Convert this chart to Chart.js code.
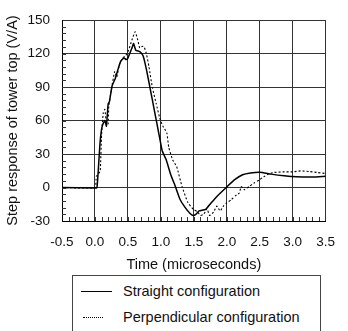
<!DOCTYPE html>
<html>
<head>
<meta charset="utf-8">
<script src="https://cdn.jsdelivr.net/npm/chart.js@4.4.1/dist/chart.umd.min.js"></script>
<style>
html,body{margin:0;padding:0;background:#fff;}
#wrap{position:relative;width:348px;height:331px;overflow:hidden;}
#c{position:absolute;left:0;top:0;}
#legend{position:absolute;left:72px;top:275px;width:249px;height:70px;border:1px solid #444;box-sizing:border-box;font:14.5px 'Liberation Sans',Arial,sans-serif;color:#111;background:#fff;}
.sw{position:absolute;height:0;}
.tx{position:absolute;white-space:nowrap;line-height:18px;}
</style>
</head>
<body>
<div id="wrap">
<canvas id="c" width="348" height="331"></canvas>
<div id="legend"></div>
</div>
<script>
// ---- data ----
const seriesNames = ['Straight configuration', 'Perpendicular configuration'];

const timeStraight = [-0.5, 0.0, 0.03, 0.05, 0.077, 0.1, 0.116, 0.15, 0.174, 0.2, 0.22, 0.26, 0.31, 0.34, 0.39, 0.44, 0.475, 0.5, 0.56, 0.586, 0.62, 0.68, 0.73, 0.78, 0.84, 0.905, 0.98, 1.02, 1.08, 1.15, 1.22, 1.29, 1.37, 1.44, 1.49, 1.53, 1.58, 1.68, 1.76, 1.85, 2.0, 2.12, 2.24, 2.36, 2.5, 2.67, 2.87, 3.06, 3.3, 3.5];
const valueStraight = [0, -0.5, 0, 15, 40, 52, 56, 60, 55, 75, 77, 91, 98, 104, 113, 116, 114.6, 116, 124.8, 129, 123, 121.7, 118, 106, 88, 68, 45, 33, 25, 11.5, 1, -10.5, -18, -23, -25, -24, -21, -19.5, -14, -8, 0.5, 7, 11.4, 13, 13.7, 12, 10.5, 9.6, 9.4, 10];

const timePerp = [-0.5, 0.0, 0.02, 0.05, 0.08, 0.1, 0.126, 0.15, 0.174, 0.2, 0.21, 0.247, 0.3, 0.33, 0.37, 0.42, 0.465, 0.51, 0.56, 0.61, 0.65, 0.68, 0.72, 0.745, 0.78, 0.82, 0.87, 0.93, 0.98, 1.03, 1.09, 1.12, 1.18, 1.24, 1.32, 1.41, 1.49, 1.56, 1.6, 1.65, 1.7, 1.74, 1.8, 1.85, 1.9, 1.95, 2.0, 2.07, 2.15, 2.19, 2.22, 2.27, 2.34, 2.41, 2.49, 2.56, 2.63, 2.72, 2.85, 3.0, 3.12, 3.26, 3.38, 3.5];
const valuePerp = [0, 0, 10, 12, 15, 47, 67, 70, 58, 57, 73, 87, 104, 99, 110, 116, 118, 123, 132, 139.5, 132, 125, 126.5, 126, 120, 108, 90, 75, 63, 55, 49, 36, 24.6, 18.7, 1.2, -13.5, -19.3, -22, -25, -24, -19, -25, -22, -16.6, -21, -16.6, -13.7, -10.8, -6.4, -5, 0.9, -2, 0.9, 3.8, 6.7, 9.6, 12, 13.5, 14, 14, 14.9, 14.3, 13.4, 12.5];

const xTicks = [-0.5, 0.0, 0.5, 1.0, 1.5, 2.0, 2.5, 3.0, 3.5];
const yTicks = [-30, 0, 30, 60, 90, 120, 150];
const xMinorStep = 0.1;
const yMinorStep = 6;

const xTitle = 'Time (microseconds)';
const yTitle = 'Step response of tower top (V/A)';

// ---- chart ----
const FAM = "'Liberation Sans', Arial, sans-serif";
const TICKFONT = {family: FAM, size: 13.5};
const TITLEFONT = {family: FAM, size: 14.5};
const toPts = (ts, vs) => ts.map((t, i) => ({x: t, y: vs[i]}));

const minorTicks = {
  id: 'minorTicks',
  afterDatasetsDraw(chart) {
    const {ctx, chartArea: a, scales: {x, y}} = chart;
    ctx.save();
    ctx.strokeStyle = '#333';
    ctx.lineWidth = 1;
    ctx.beginPath();
    const nx = Math.round((xTicks[xTicks.length - 1] - xTicks[0]) / xMinorStep);
    for (let i = 1; i < nx; i++) {
      const px = Math.round(x.getPixelForValue(xTicks[0] + i * xMinorStep)) + 0.5;
      ctx.moveTo(px, a.bottom);
      ctx.lineTo(px, a.bottom - 4);
    }
    const ny = Math.round((yTicks[yTicks.length - 1] - yTicks[0]) / yMinorStep);
    for (let i = 1; i < ny; i++) {
      const py = Math.round(y.getPixelForValue(yTicks[0] + i * yMinorStep)) + 0.5;
      ctx.moveTo(a.left, py);
      ctx.lineTo(a.left + 4, py);
    }
    ctx.stroke();
    ctx.restore();
  }
};

const chart = new Chart(document.getElementById('c'), {
  type: 'line',
  data: {
    datasets: [
      {label: seriesNames[0], data: toPts(timeStraight, valueStraight), borderColor: '#000', borderWidth: 1.5, pointRadius: 0, tension: 0.15, fill: false},
      {label: seriesNames[1], data: toPts(timePerp, valuePerp), borderColor: '#000', borderWidth: 1.1, borderDash: [2, 2], pointRadius: 0, tension: 0.15, fill: false}
    ]
  },
  options: {
    responsive: false,
    animation: false,
    events: [],
    layout: {padding: {left: 6, right: 0, top: 6, bottom: 61}},
    plugins: {legend: {display: false}, tooltip: {enabled: false}},
    scales: {
      x: {
        type: 'linear',
        min: xTicks[0], max: xTicks[xTicks.length - 1],
        afterBuildTicks: s => { s.ticks = xTicks.map(v => ({value: v})); },
        ticks: {font: TICKFONT, color: '#111', padding: 13, maxRotation: 0, autoSkip: false,
                callback: v => Number(v).toFixed(1)},
        grid: {color: '#333', lineWidth: 1, drawTicks: false},
        border: {display: true, color: '#000', width: 1},
        title: {display: true, text: xTitle, font: TITLEFONT, color: '#111', padding: {top: -7, bottom: 10}}
      },
      y: {
        type: 'linear',
        min: yTicks[0], max: yTicks[yTicks.length - 1],
        afterBuildTicks: s => { s.ticks = yTicks.map(v => ({value: v})); },
        ticks: {font: TICKFONT, color: '#111', padding: 12},
        grid: {color: '#333', lineWidth: 1, drawTicks: false},
        border: {display: true, color: '#000', width: 1},
        title: {display: true, text: yTitle, font: TITLEFONT, color: '#111', padding: {top: 11, bottom: -6}}
      }
    }
  },
  plugins: [minorTicks]
});

// fit the plot area to the reference frame
const frame = {left: 62, right: 337, top: 16, bottom: 221};
for (let k = 0; k < 4; k++) {
  const a = chart.chartArea, p = chart.options.layout.padding;
  p.left += frame.left - a.left;
  p.right += a.right - frame.right;
  p.top += frame.top - a.top;
  p.bottom += a.bottom - frame.bottom;
  chart.update();
}

// ---- legend (boxed, vertical) ----
const legend = document.getElementById('legend');
const styles = ['1.5px solid #000', '1.2px dotted #000'];
const swX = [[8, 31], [10, 20]];
seriesNames.forEach((name, i) => {
  const top = 6 + i * 26;
  const sw = document.createElement('div');
  sw.className = 'sw';
  sw.style.left = swX[i][0] + 'px';
  sw.style.width = swX[i][1] + 'px';
  sw.style.top = (top + 9) + 'px';
  sw.style.borderTop = styles[i];
  legend.appendChild(sw);
  const tx = document.createElement('div');
  tx.className = 'tx';
  tx.style.left = '50px';
  tx.style.top = top + 'px';
  tx.textContent = name;
  legend.appendChild(tx);
});
</script>
</body>
</html>
